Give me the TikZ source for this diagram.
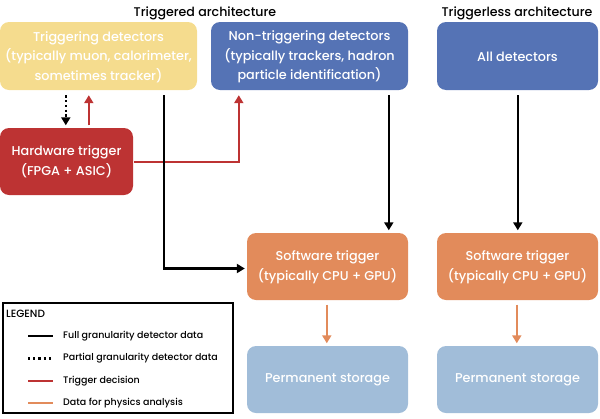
\documentclass[tikz,border=0pt]{standalone}
\usepackage{fontspec}
\setmainfont{Poppins}[UprightFont={* Medium}]
\usetikzlibrary{arrows.meta,calc}
\definecolor{cyel}{HTML}{F5DC8E}
\definecolor{cblue}{HTML}{5573B5}
\definecolor{cred}{HTML}{BD3333}
\definecolor{corange}{HTML}{E28B5B}
\definecolor{clight}{HTML}{A1BDD9}
\begin{document}
\begin{tikzpicture}[x=1pt,y=-1pt,
  box/.style={rounded corners=9pt,inner sep=0pt,text=white,align=center,font=\fontsize{12.8}{19.5}\selectfont},
  tip/.style={-{Triangle[length=8pt,width=9pt]}},
  fullc/.style={draw=black,line width=2.6pt,tip},
  partc/.style={draw=black,line width=2.6pt,dash pattern=on 2.4pt off 2.4pt,tip},
  trigc/.style={draw=cred,line width=2.6pt,tip},
  physc/.style={draw=corange,line width=2.6pt,tip},
  ttl/.style={font=\fontsize{12.6}{15}\selectfont},
  leg/.style={font=\fontsize{9.5}{11}\selectfont,anchor=west,inner sep=0pt}]
\useasboundingbox (0,0) rectangle (600,418);
\node[ttl] (t1) at (205,13) {Triggered architecture};
\node[ttl] (t2) at (517,13) {Triggerless architecture};
\path[fill=cyel,rounded corners=9pt] (0,22) rectangle (197,90);
\node[box] (trig) at (98.5,57) [minimum width=197pt,minimum height=68pt] {Triggering detectors\\(typically muon, calorimeter,\\sometimes tracker)};
\path[fill=cblue,rounded corners=9pt] (211,22) rectangle (408,90);
\node[box] (nontrig) at (309.5,57) [minimum width=197pt,minimum height=68pt] {Non-triggering detectors\\(typically trackers, hadron\\particle identification)};
\path[fill=cblue,rounded corners=9pt] (437,22) rectangle (598,90);
\node[box] (all) at (517.5,57) [minimum width=161pt,minimum height=68pt] {All detectors};
\path[fill=cred,rounded corners=9pt] (0,128) rectangle (133,195);
\node[box] (hw) at (66.5,162) [minimum width=133pt,minimum height=67pt] {Hardware trigger\\(FPGA + ASIC)};
\path[fill=corange,rounded corners=9pt] (247,233) rectangle (408,300);
\node[box] (sw1) at (327.5,267) [minimum width=161pt,minimum height=67pt] {Software trigger\\(typically CPU + GPU)};
\path[fill=corange,rounded corners=9pt] (437,233) rectangle (598,300);
\node[box] (sw2) at (517.5,267) [minimum width=161pt,minimum height=67pt] {Software trigger\\(typically CPU + GPU)};
\path[fill=clight,rounded corners=9pt] (247,346) rectangle (408,413);
\node[box] (ps1) at (327.5,380) [minimum width=161pt,minimum height=67pt] {Permanent storage};
\path[fill=clight,rounded corners=9pt] (437,346) rectangle (598,413);
\node[box] (ps2) at (517.5,380) [minimum width=161pt,minimum height=67pt] {Permanent storage};
% connectors
\draw[partc] ($(trig.south west)+(66,4)$) -- ($(hw.north west)+(66,-3)$);
\draw[trigc] ($(hw.north west)+(89,-3)$) -- ($(trig.south west)+(89,4)$);
\draw[trigc] ($(hw.east)+(1,0)$) -| ($(nontrig.south west)+(28,4)$);
\draw[fullc] ($(trig.south west)+(164,4)$) |- ($(sw1.west)+(-2,1.5)$);
\draw[fullc] ($(nontrig.south west)+(178,4)$) -- ($(sw1.north west)+(142,-3)$);
\draw[fullc] ($(all.south west)+(81,4)$) -- ($(sw2.north west)+(81,-3)$);
\draw[physc] ($(sw1.south west)+(80,4)$) -- ($(ps1.north west)+(80,-3)$);
\draw[physc] ($(sw2.south west)+(80,4)$) -- ($(ps2.north west)+(80,-3)$);
% legend
\node[draw=black,line width=2.2pt,minimum width=230pt,minimum height=110pt,inner sep=0pt] (legend) at (118,358) {};
\node[leg,font=\fontsize{10.5}{12}\selectfont] (lt) at (6,314) {LEGEND};
\coordinate (a1) at (28,336); \coordinate (b1) at (53,336);
\coordinate (a2) at (28,358.5); \coordinate (b2) at (53,358.5);
\coordinate (a3) at (28,381); \coordinate (b3) at (53,381);
\coordinate (a4) at (28,403); \coordinate (b4) at (53,403);
\draw[black,line width=2.2pt] (a1) -- (b1);
\draw[black,line width=2.2pt,dash pattern=on 2.2pt off 3pt] (a2) -- (b2);
\draw[cred,line width=2.2pt] (a3) -- (b3);
\draw[corange,line width=2.2pt] (a4) -- (b4);
\node[leg] (l1) at (63,336) {Full granularity detector data};
\node[leg] (l2) at (63,358.5) {Partial granularity detector data};
\node[leg] (l3) at (63,381) {Trigger decision};
\node[leg] (l4) at (63,403) {Data for physics analysis};
\end{tikzpicture}
\end{document}
